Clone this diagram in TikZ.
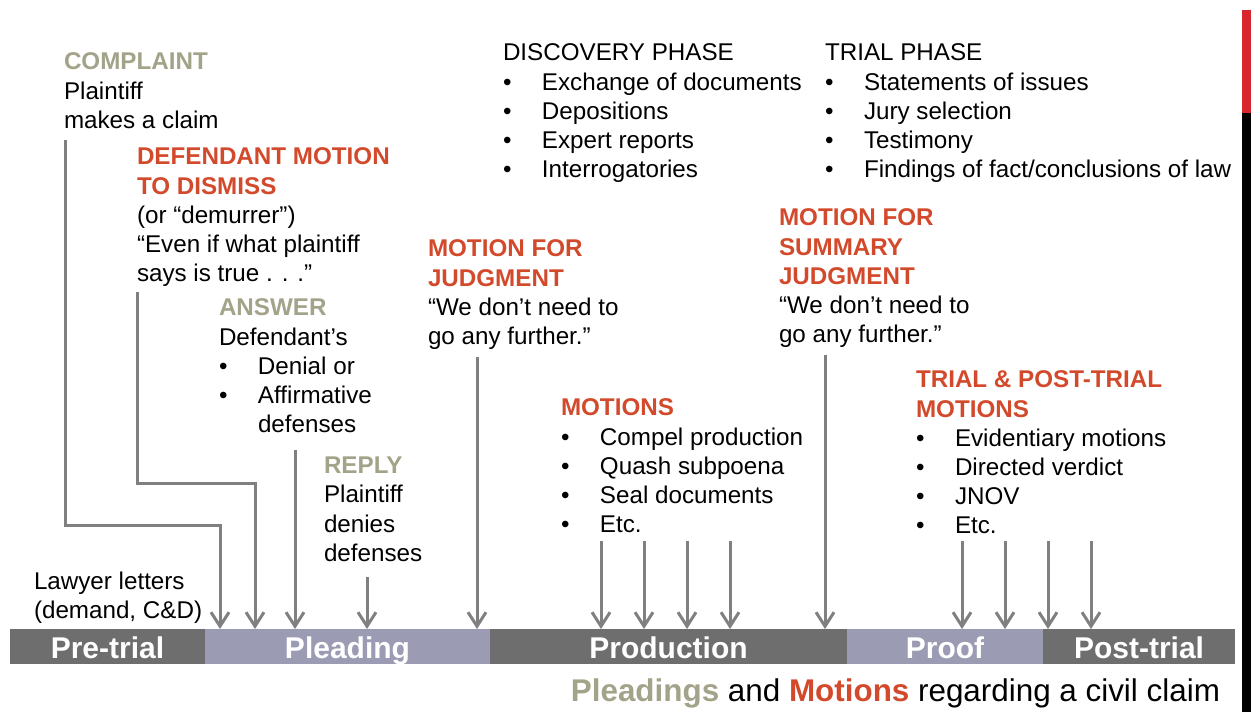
\documentclass[tikz,border=0pt]{standalone}
\usepackage{fontspec}
\setmainfont{Liberation Sans}
\usetikzlibrary{arrows.meta,positioning}
\definecolor{pleadolive}{HTML}{A3A389}
\definecolor{motionred}{HTML}{D24A2B}
\definecolor{bardark}{HTML}{6E6E6E}
\definecolor{barlight}{HTML}{9B9CB3}
\definecolor{flowgray}{HTML}{808080}
\definecolor{edgered}{HTML}{D9262E}
\newcommand{\phead}[1]{{\bfseries\color{pleadolive}#1}}
\newcommand{\mhead}[1]{{\bfseries\color{motionred}#1}}
\newcommand{\itm}{\makebox[19.5pt][l]{\textbullet}}
\newcommand{\ind}{\hspace*{19.5pt}}
\def\MotionDrops{601,644,687,730}
\def\TrialDrops{962,1005,1048,1091}

\begin{document}
\begin{tikzpicture}[
  x=0.5pt, y=-0.5pt,
  >={Straight Barb[length=7pt,width=9pt]}, line join=miter,
  every node/.style={inner sep=0pt, outer sep=0pt,
    font=\fontsize{12.1pt}{14.6pt}\selectfont},
  txt/.style={anchor=north west, align=left},
  flow/.style={draw=flowgray, line width=1.5pt, ->},
  phase/.style={minimum height=17.5pt, text=white,
    font=\fontsize{15pt}{17pt}\selectfont\bfseries,
    text height=11.5pt, text depth=0pt}
]
\useasboundingbox (0,0) rectangle (1251,712);

% --- Edge strip --------------------------------------------------------
\fill[edgered] (1242,10) rectangle (1251,113);
\fill[black] (1242,113) rectangle (1251,712);

% --- Phase bar ---------------------------------------------------------
\node[phase, fill=bardark, anchor=north west, minimum width=97.5pt]
  (pretrial) at (10,629) {Pre-trial};
\node[phase, fill=barlight, minimum width=142.5pt, right=0pt of pretrial]
  (pleading) {Pleading};
\node[phase, fill=bardark, minimum width=178.5pt, right=0pt of pleading]
  (production) {Production};
\node[phase, fill=barlight, minimum width=98pt, right=0pt of production]
  (proof) {Proof};
\node[phase, fill=bardark, minimum width=96pt, right=0pt of proof]
  (posttrial) {Post-trial};

\node[anchor=base east, font=\fontsize{15.7pt}{17pt}\selectfont] (caption)
  at (1220,701) {\phead{Pleadings} and \mhead{Motions} regarding a civil claim};

% --- Pleadings and motions ---------------------------------------------
\node[txt] (complaint) at (64,53)
  {\phead{COMPLAINT}\\Plaintiff\\makes a claim};
\node[txt] (dismiss) at (137,148)
  {\mhead{DEFENDANT MOTION}\\\mhead{TO DISMISS}\\(or “demurrer”)\\“Even if what plaintiff\\says is true . . .”};
\node[txt] (answer) at (219,299)
  {\phead{ANSWER}\\Defendant’s\\\itm Denial or\\\itm Affirmative\\\ind defenses};
\node[txt] (reply) at (324,457)
  {\phead{REPLY}\\Plaintiff\\denies\\defenses};
\node[txt] (judgment) at (428,240)
  {\mhead{MOTION FOR}\\\mhead{JUDGMENT}\\“We don’t need to\\go any further.”};
\node[txt] (discovery) at (503,44)
  {DISCOVERY PHASE\\\itm Exchange of documents\\\itm Depositions\\\itm Expert reports\\\itm Interrogatories};
\node[txt] (trialphase) at (825,44)
  {TRIAL PHASE\\\itm Statements of issues\\\itm Jury selection\\\itm Testimony\\\itm Findings of fact/conclusions of law};
\node[txt] (summary) at (779,209)
  {\mhead{MOTION FOR}\\\mhead{SUMMARY}\\\mhead{JUDGMENT}\\“We don’t need to\\go any further.”};
\node[txt] (motions) at (561,399)
  {\mhead{MOTIONS}\\\itm Compel production\\\itm Quash subpoena\\\itm Seal documents\\\itm Etc.};
\node[txt] (trialmotions) at (916,371)
  {\mhead{TRIAL \& POST-TRIAL}\\\mhead{MOTIONS}\\\itm Evidentiary motions\\\itm Directed verdict\\\itm JNOV\\\itm Etc.};
\node[txt] (letters) at (34,572) {Lawyer letters\\(demand, C\&D)};

% --- Arrows down to the bar ----------------------------------------------
\coordinate (cmp-out) at (65,140);
\coordinate (cmp-turn) at (220,525);
\draw[flow] (cmp-out) |- (cmp-turn) -- (cmp-turn |- pleading.north);
\coordinate (dis-out) at (137,292);
\coordinate (dis-turn) at (255,483);
\draw[flow] (dis-out) |- (dis-turn) -- (dis-turn |- pleading.north);
\coordinate (ans-out) at (295,450);
\draw[flow] (ans-out) -- (ans-out |- pleading.north);
\coordinate (rep-out) at (367,577);
\draw[flow] (rep-out) -- (rep-out |- pleading.north);
\coordinate (jdg-out) at (477,357);
\draw[flow] (jdg-out) -- (jdg-out |- pleading.north);
\coordinate (sum-out) at (825,355);
\draw[flow] (sum-out) -- (sum-out |- production.north);
\foreach \x in \MotionDrops {
  \coordinate (drop) at (\x,541);
  \draw[flow] (drop) -- (drop |- production.north);
}
\foreach \x in \TrialDrops {
  \coordinate (drop) at (\x,541);
  \draw[flow] (drop) -- (drop |- proof.north);
}

\end{tikzpicture}
\end{document}
